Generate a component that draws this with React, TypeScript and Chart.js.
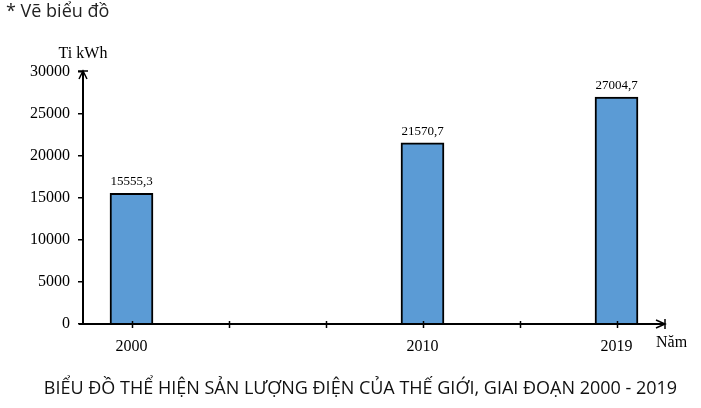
import React, { useEffect, useRef } from "react";
import { Chart, registerables } from "chart.js";

Chart.register(...registerables);

const categories: string[] = ["2000", "", "", "2010", "", "2019"];
const values: (number | null)[] = [15555.3, null, null, 21570.7, null, 27004.7];
const valueLabels: string[] = ["15555,3", "", "", "21570,7", "", "27004,7"];
const yTicks = { min: 0, max: 30000, step: 5000 };
const yUnit = "Ti kWh";
const xUnit = "Năm";
const heading = "* Vẽ biểu đồ";
const caption = "BIỂU ĐỒ THỂ HIỆN SẢN LƯỢNG ĐIỆN CỦA THẾ GIỚI, GIAI ĐOẠN 2000 - 2019";

const SERIF = "'Liberation Serif', 'Times New Roman', serif";
const SANS = "'Open Sans', 'Noto Sans', sans-serif";

const axesPlugin = {
  id: "axesPlugin",
  afterDatasetsDraw(chart: any) {
    const ctx = chart.ctx;
    const area = chart.chartArea;
    const xs = chart.scales.x;
    ctx.save();
    ctx.strokeStyle = "#000";
    ctx.fillStyle = "#000";
    ctx.lineWidth = 2;
    // y axis
    ctx.beginPath();
    ctx.moveTo(area.left, area.bottom + 1);
    ctx.lineTo(area.left, area.top - 1);
    ctx.stroke();
    // top bar
    ctx.lineWidth = 1.5;
    ctx.beginPath();
    ctx.moveTo(area.left - 5, area.top - 1);
    ctx.lineTo(area.left + 5, area.top - 1);
    ctx.stroke();
    // arrowhead up
    ctx.beginPath();
    ctx.moveTo(area.left - 4, area.top + 7);
    ctx.lineTo(area.left, area.top - 1);
    ctx.lineTo(area.left + 4, area.top + 7);
    ctx.stroke();
    // x axis
    ctx.lineWidth = 2;
    ctx.beginPath();
    ctx.moveTo(area.left - 4, area.bottom);
    ctx.lineTo(area.right, area.bottom);
    ctx.stroke();
    ctx.lineWidth = 1.5;
    ctx.beginPath();
    ctx.moveTo(area.right, area.bottom - 5);
    ctx.lineTo(area.right, area.bottom + 5);
    ctx.stroke();
    ctx.beginPath();
    ctx.moveTo(area.right - 9, area.bottom - 4);
    ctx.lineTo(area.right, area.bottom);
    ctx.lineTo(area.right - 9, area.bottom + 4);
    ctx.stroke();
    // x tick marks
    ctx.lineWidth = 1.5;
    for (let i = 0; i < categories.length; i++) {
      const px = Math.round(xs.getPixelForValue(i)) + 0.5;
      ctx.beginPath();
      ctx.moveTo(px, area.bottom - 3);
      ctx.lineTo(px, area.bottom + 4);
      ctx.stroke();
    }
    // value labels
    const meta = chart.getDatasetMeta(0);
    ctx.font = `13px ${SERIF}`;
    ctx.textAlign = "center";
    ctx.textBaseline = "alphabetic";
    meta.data.forEach((el: any, i: number) => {
      if (values[i] == null) return;
      ctx.fillText(valueLabels[i], el.x, el.y - 8);
    });
    // unit labels
    ctx.font = `16px ${SERIF}`;
    ctx.textAlign = "center";
    ctx.fillText(yUnit, area.left, area.top - 14);
    ctx.textAlign = "left";
    ctx.fillText(xUnit, area.right - 9, area.bottom + 23);
    ctx.restore();
  },
};

export default function App() {
  const ref = useRef<HTMLCanvasElement | null>(null);
  useEffect(() => {
    if (!ref.current) return;
    const chart = new Chart(ref.current, {
      type: "bar",
      data: {
        labels: categories,
        datasets: [
          {
            data: values,
            backgroundColor: "#5B9BD5",
            borderColor: "#000",
            borderWidth: 2,
            barThickness: 43,
            borderSkipped: "bottom",
          },
        ],
      },
      options: {
        animation: false,
        responsive: false,
        devicePixelRatio: 1,
        layout: { padding: { top: 72, right: 36, left: 0, bottom: 0 } },
        plugins: { legend: { display: false }, tooltip: { enabled: false }, title: { display: false } },
        scales: {
          x: {
            type: "category",
            offset: true,
            grid: { display: false, drawTicks: false },
            border: { display: false },
            ticks: {
              autoSkip: false,
              maxRotation: 0,
              padding: 13,
              color: "#000",
              font: { family: SERIF, size: 16 },
            },
            afterFit: (s: any) => {
              s.height = 84;
            },
          },
          y: {
            min: yTicks.min,
            max: yTicks.max,
            grid: {
              display: true,
              drawOnChartArea: false,
              drawTicks: true,
              tickLength: 5,
              color: "#000",
              lineWidth: 1.5,
            },
            border: { display: false },
            ticks: {
              stepSize: yTicks.step,
              padding: 8,
              color: "#000",
              font: { family: SERIF, size: 16 },
              callback: (v: any) => String(v),
            },
            afterFit: (s: any) => {
              s.width = 83;
            },
          },
        },
      },
      plugins: [axesPlugin],
    });
    return () => chart.destroy();
  }, []);

  return (
    <div style={{ position: "absolute", left: 0, top: 0, width: 701, height: 408, background: "#fff", overflow: "hidden" }}>
      <canvas ref={ref} width={701} height={408} style={{ position: "absolute", left: 0, top: 0 }} />
      <div
        style={{
          position: "absolute",
          left: 6,
          top: -2,
          fontFamily: SANS,
          fontSize: 18,
          lineHeight: "24px",
          color: "#222",
          whiteSpace: "nowrap",
        }}
      >
        {heading}
      </div>
      <div
        style={{
          position: "absolute",
          left: 0,
          width: 721,
          top: 375,
          textAlign: "center",
          fontFamily: SANS,
          fontSize: 18,
          lineHeight: "24px",
          color: "#111",
          whiteSpace: "nowrap",
        }}
      >
        {caption}
      </div>
    </div>
  );
}
